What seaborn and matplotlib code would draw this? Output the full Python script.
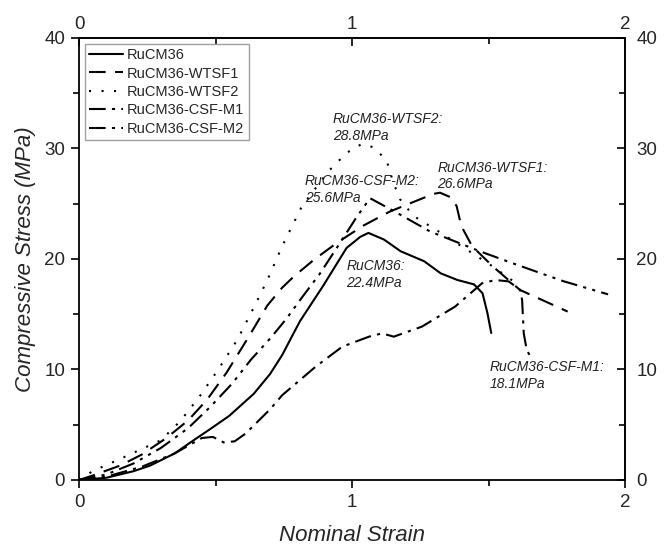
import matplotlib
matplotlib.use("Agg")
import matplotlib.pyplot as plt
import seaborn as sns
import pandas as pd
from matplotlib.ticker import MultipleLocator

# ---- data ----
x_ru = [0, 0.1, 0.2, 0.26, 0.35, 0.42, 0.48, 0.55, 0.64, 0.70, 0.744, 0.78, 0.81, 0.895, 0.98, 1.03, 1.06, 1.117, 1.178, 1.264, 1.325, 1.386, 1.447, 1.478, 1.496, 1.51]
y_ru = [0, 0.2, 0.8, 1.3, 2.4, 3.6, 4.6, 5.8, 7.8, 9.6, 11.3, 13.0, 14.4, 17.6, 21.0, 22.0, 22.36, 21.76, 20.7, 19.8, 18.7, 18.1, 17.7, 16.9, 15.1, 13.3]

x_w1 = [0, 0.05, 0.15, 0.23, 0.32, 0.40, 0.47, 0.54, 0.62, 0.69, 0.744, 0.786, 0.859, 0.944, 1.04, 1.139, 1.249, 1.30, 1.322, 1.36, 1.383, 1.40, 1.44, 1.517, 1.615, 1.79]
y_w1 = [0, 0.4, 1.3, 2.3, 3.8, 5.4, 7.3, 9.7, 12.9, 15.8, 17.4, 18.4, 19.9, 21.45, 23.0, 24.3, 25.4, 25.9, 26.0, 25.6, 24.8, 23.0, 21.15, 19.3, 17.2, 15.24]

x_w2 = [0, 0.05, 0.15, 0.3, 0.37, 0.44, 0.51, 0.58, 0.64, 0.69, 0.744, 0.817, 0.915, 0.98, 1.035, 1.08, 1.127, 1.15, 1.176, 1.225, 1.323, 1.42, 1.517, 1.59]
y_w2 = [0, 0.8, 1.9, 3.6, 5.3, 7.5, 10.0, 12.7, 15.6, 18.1, 21.15, 24.8, 27.97, 29.6, 30.4, 30.1, 28.9, 27.0, 25.4, 23.9, 22.4, 20.85, 19.3, 18.0]

x_m1 = [0, 0.1, 0.23, 0.35, 0.45, 0.49, 0.53, 0.57, 0.61, 0.7, 0.744, 0.866, 0.964, 1.062, 1.11, 1.153, 1.256, 1.378, 1.476, 1.525, 1.574, 1.616, 1.623, 1.629, 1.64, 1.654]
y_m1 = [0, 0.3, 1.2, 2.4, 3.8, 3.9, 3.4, 3.5, 4.2, 6.4, 7.67, 10.24, 12.06, 12.97, 13.27, 12.97, 13.88, 15.7, 17.8, 18.1, 17.97, 17.2, 16.3, 13.27, 11.76, 11.15]

x_m2 = [0, 0.1, 0.2, 0.3, 0.4, 0.48, 0.56, 0.63, 0.70, 0.76, 0.81, 0.883, 0.956, 1.017, 1.066, 1.163, 1.285, 1.468, 1.59, 1.773, 1.938]
y_m2 = [0, 0.5, 1.5, 2.9, 4.7, 6.6, 8.7, 10.9, 12.8, 14.6, 16.3, 18.7, 21.45, 23.8, 25.5, 24.2, 22.5, 20.7, 19.6, 18.0, 16.8]

names = ["RuCM36", "RuCM36-WTSF1", "RuCM36-WTSF2", "RuCM36-CSF-M1", "RuCM36-CSF-M2"]
annot_text = ["RuCM36-WTSF2:\n28.8MPa", "RuCM36-CSF-M2:\n25.6MPa", "RuCM36-WTSF1:\n26.6MPa",
              "RuCM36:\n22.4MPa", "RuCM36-CSF-M1:\n18.1MPa"]
annot_x = [0.929, 0.828, 1.313, 0.98, 1.503]
annot_y = [31.9, 26.3, 27.5, 18.6, 9.45]

x_ticks = [0, 1, 2]
y_ticks = [0, 10, 20, 30, 40]

series = [(x_ru, y_ru), (x_w1, y_w1), (x_w2, y_w2), (x_m1, y_m1), (x_m2, y_m2)]
styles = ["-", (0, (8, 4.5)), (0, (1, 5)), (0, (8, 3, 1.5, 3)), (0, (8, 3, 1.5, 3, 1.5, 3))]

sns.set_theme(style="white")
plt.rcParams["font.family"] = ["Liberation Sans", "DejaVu Sans"]

fig = plt.figure(figsize=(6.72, 5.49), dpi=100)
ax = fig.add_axes([0.1176, 0.1257, 0.8125, 0.8051])

for name, (xs, ys), ls in zip(names, series, styles):
    df = pd.DataFrame({"x": xs, "y": ys})
    sns.lineplot(data=df, x="x", y="y", ax=ax, color="black", linewidth=1.5,
                 linestyle=ls, sort=False, label=name, estimator=None)

ax.set_xlim(0, 2)
ax.set_ylim(0, 40)
ax.set_xticks(x_ticks)
ax.set_yticks(y_ticks)
ax.xaxis.set_minor_locator(MultipleLocator(0.5))
ax.yaxis.set_minor_locator(MultipleLocator(5))
ax.tick_params(which="both", direction="out", color="black", labelsize=13.5, pad=4)
ax.tick_params(which="major", length=6, width=1.2)
ax.tick_params(which="minor", length=4, width=1.2)
ax.tick_params(axis="both", bottom=True, left=True, which="both")
for sp in ax.spines.values():
    sp.set_color("black")
    sp.set_linewidth(1.3)

ax.set_xlabel("Nominal Strain", fontsize=16, style="italic", labelpad=10)
ax.set_ylabel("Compressive Stress (MPa)", fontsize=16, style="italic", labelpad=6)

secx = ax.secondary_xaxis("top")
secx.set_xticks(x_ticks)
secx.xaxis.set_minor_locator(MultipleLocator(0.5))
secx.tick_params(which="both", direction="in", labelsize=13.5, color="black")
secx.tick_params(which="major", length=6, width=1.2)
secx.tick_params(which="minor", length=4, width=1.2)

secy = ax.secondary_yaxis("right")
secy.set_yticks(y_ticks)
secy.yaxis.set_minor_locator(MultipleLocator(5))
secy.tick_params(which="both", direction="in", labelsize=13.5, color="black", pad=8)
secy.tick_params(which="major", length=6, width=1.2)
secy.tick_params(which="minor", length=4, width=1.2)

for t, xa, ya in zip(annot_text, annot_x, annot_y):
    ax.text(xa, ya, t, fontsize=10, style="italic", color="#222222",
            ha="left", va="center", linespacing=1.25)

leg = ax.legend(loc="upper left", fontsize=10.5, frameon=True, fancybox=False,
                handlelength=2.3, handletextpad=0.3, labelspacing=0.3,
                borderpad=0.3, borderaxespad=0.4)
leg.get_frame().set_edgecolor("#888888")
leg.get_frame().set_linewidth(1.0)

fig.savefig("out.png", dpi=100)
